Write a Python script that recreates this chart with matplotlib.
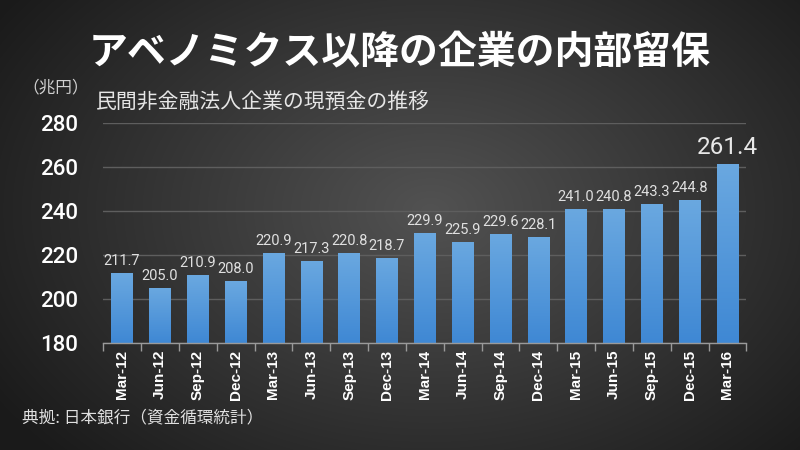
import numpy as np
import matplotlib
matplotlib.use('Agg')
import matplotlib.pyplot as plt

plt.rcParams['font.family'] = ['Roboto', 'Noto Sans CJK JP', 'DejaVu Sans']

# データ（兆円）
kikan = ['Mar-12', 'Jun-12', 'Sep-12', 'Dec-12', 'Mar-13', 'Jun-13', 'Sep-13', 'Dec-13',
         'Mar-14', 'Jun-14', 'Sep-14', 'Dec-14', 'Mar-15', 'Jun-15', 'Sep-15', 'Dec-15', 'Mar-16']
genyokin = [211.7, 205.0, 210.9, 208.0, 220.9, 217.3, 220.8, 218.7,
            229.9, 225.9, 229.6, 228.1, 241.0, 240.8, 243.3, 244.8, 261.4]
y_ticks = [180, 200, 220, 240, 260, 280]

jp = ['Noto Sans CJK JP', 'DejaVu Sans']

fig = plt.figure(figsize=(8, 4.5), dpi=100)

# 背景（放射グラデーション）
bg = fig.add_axes([0, 0, 1, 1], zorder=-10)
yy, xx = np.mgrid[0:450, 0:800]
r = np.sqrt(((xx - 430) / 520.0) ** 2 + ((yy - 210) / 360.0) ** 2)
r = np.clip(r, 0, 1)
c_in = np.array([0x52, 0x52, 0x52]) / 255
c_out = np.array([0x1a, 0x1a, 0x1a]) / 255
img = c_in[None, None, :] * (1 - r[..., None]) + c_out[None, None, :] * r[..., None]
bg.imshow(img, aspect='auto', extent=[0, 1, 0, 1])
bg.axis('off')

ax = fig.add_axes([0.129, 0.238, 0.804, 0.489])
ax.patch.set_alpha(0)
x = np.arange(len(kikan))
bars = ax.bar(x, genyokin, width=0.57, color='#5b9bd5', zorder=3)

# 棒のグラデーション
grad = np.linspace(0, 1, 100).reshape(-1, 1)
cmap = matplotlib.colors.LinearSegmentedColormap.from_list('b', ['#3f88d4', '#6aa8e0'])
for b in bars:
    bx, bw, bh = b.get_x(), b.get_width(), b.get_height()
    im = ax.imshow(grad, extent=[bx, bx + bw, 180, bh], origin='lower', cmap=cmap,
                   aspect='auto', zorder=4)
    im.set_clip_path(b)

for i, v in enumerate(genyokin):
    if i == len(genyokin) - 1:
        ax.text(i, v + 2.2, f'{v:.1f}', ha='center', va='bottom', color='#e8e8e8', fontsize=17.5)
    else:
        ax.text(i, v + 2.2, f'{v:.1f}', ha='center', va='bottom', color='#e0e0e0', fontsize=10.5)

ax.set_xlim(-0.5, len(kikan) - 0.5)
ax.set_ylim(180, 280)
ax.set_yticks(y_ticks)
ax.set_yticklabels([str(t) for t in y_ticks], fontsize=16, color='white', fontweight='medium')
ax.set_xticks(x)
ax.set_xticklabels(kikan, rotation=90, fontsize=11, color='white', fontweight='bold',
                   family=['Liberation Sans', 'DejaVu Sans'])
ax.set_xticks(np.arange(-0.5, len(kikan), 1), minor=True)
ax.tick_params(axis='x', which='major', length=0, pad=5)
ax.tick_params(axis='x', which='minor', length=6, color='#9a9a9a', width=1)
ax.tick_params(axis='y', length=0, pad=18)
ax.grid(axis='y', color='#5e5e5e', linewidth=1, zorder=0)
for s in ['top', 'right', 'left']:
    ax.spines[s].set_visible(False)
ax.spines['bottom'].set_color('#9a9a9a')
ax.spines['bottom'].set_linewidth(1)
ax.spines['bottom'].set_zorder(5)

fig.text(0.5, 0.885, 'アベノミクス以降の企業の内部留保', ha='center', va='center',
         color='white', fontsize=28, fontweight='bold', family=jp)
fig.text(0.12, 0.772, '民間非金融法人企業の現預金の推移', ha='left', va='center',
         color='#e6e6e6', fontsize=15, family=jp)
fig.text(0.028, 0.805, '（兆円）', ha='left', va='center',
         color='#d0d0d0', fontsize=12, family=jp)
fig.text(0.028, 0.072, '典拠: 日本銀行（資金循環統計）', ha='left', va='center',
         color='#e0e0e0', fontsize=12, family=jp)

fig.savefig('out.png', dpi=100)
